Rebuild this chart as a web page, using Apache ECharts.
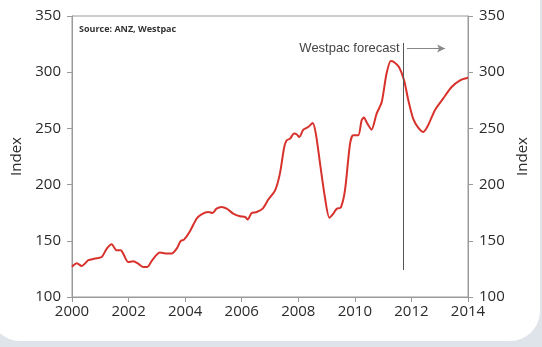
<!DOCTYPE html>
<html>
<head>
<meta charset="utf-8">
<script src="https://cdn.jsdelivr.net/npm/echarts@6/dist/echarts.min.js"></script>
<style>
  html, body { margin: 0; padding: 0; width: 542px; height: 347px; overflow: hidden; background: #dfe4ea; }
  #panel { position: absolute; left: -10px; top: -40px; width: 550px; height: 381px; background: #ffffff; border-radius: 30px; }
  #chart { position: absolute; left: 0; top: 0; width: 542px; height: 347px; }
</style>
</head>
<body>
<div id="panel"></div>
<div id="chart"></div>
<script>
// Index level; Westpac forecast from late 2011
const dates = [
  2000.00, 2000.17, 2000.34, 2000.58, 2000.81, 2001.05, 2001.23, 2001.40, 2001.58, 2001.73,
  2001.81, 2001.99, 2002.17, 2002.34, 2002.52, 2002.66, 2002.85, 2003.11, 2003.35, 2003.52,
  2003.70, 2003.84, 2003.96, 2004.17, 2004.41, 2004.58, 2004.82, 2004.97, 2005.11, 2005.29,
  2005.47, 2005.70, 2005.94, 2006.12, 2006.21, 2006.35, 2006.53, 2006.74, 2006.94, 2007.18,
  2007.35, 2007.50, 2007.59, 2007.71, 2007.85, 2007.94, 2008.03, 2008.18, 2008.35, 2008.51,
  2008.62, 2008.77, 2008.94, 2009.10, 2009.24, 2009.36, 2009.50, 2009.65, 2009.83, 2009.94,
  2010.12, 2010.24, 2010.32, 2010.44, 2010.59, 2010.77, 2010.95, 2011.12, 2011.27, 2011.38,
  2011.56, 2011.74, 2011.89, 2012.06, 2012.24, 2012.42, 2012.59, 2012.83, 2013.12, 2013.42,
  2013.72, 2014.00
];
const indexValues = [
  127, 130, 127.6, 132.7, 134.2, 135.6, 143, 146.9, 141.5, 141.5,
  138.6, 131.1, 131.8, 129.7, 126.7, 126.7, 133.3, 139.5, 138.6, 138.6,
  143, 149.8, 151, 158.5, 169.8, 173.6, 175.6, 174.7, 178.6, 180.1,
  178.6, 174.2, 171.8, 171.2, 168.9, 174.7, 175.6, 178.6, 186.7, 194.9,
  209.8, 233, 239.4, 240.9, 245.4, 244.8, 242.3, 248.9, 251.2, 254.8,
  245.4, 218.7, 189, 170.6, 174.2, 178.6, 179.5, 194.9, 236.5, 243.9,
  243.9, 257.2, 259.6, 254.3, 248.9, 263.2, 273.5, 298.8, 310, 309.1,
  304.6, 292.8, 275, 258.7, 250.7, 246.8, 252.8, 266.2, 276.5, 286.8,
  292.8, 295
];
const yearTicks = [2000, 2014, 2];      // min, max, step
const indexTicks = [100, 350, 50];      // min, max, step
const forecastStart = 2011.7;
const forecastLineRange = [124, 326];
const forecastArrow = [2011.84, 2013.19, 321];
const forecastLabel = 'Westpac forecast';
const sourceNote = 'Source: ANZ, Westpac';

const seriesData = dates.map((d, i) => [d, indexValues[i]]);

const axisFont = { fontFamily: 'Open Sans', fontSize: 15, color: '#2b2b2b' };
const axisGrey = '#9a9a9a';

function yAxisFor(pos) {
  return {
    type: 'value', position: pos,
    min: indexTicks[0], max: indexTicks[1], interval: indexTicks[2],
    name: 'Index', nameLocation: 'middle', nameGap: pos === 'left' ? 37 : 35,
    nameTextStyle: { fontFamily: 'Open Sans', fontSize: 15, color: '#2b2b2b' },
    axisLine: { show: true, lineStyle: { color: axisGrey, width: 1 } },
    axisTick: { show: true, length: 5, lineStyle: { color: axisGrey } },
    axisLabel: Object.assign({ margin: 11 }, axisFont),
    splitLine: { show: false }
  };
}

const chart = echarts.init(document.getElementById('chart'), null, { renderer: 'canvas' });
chart.setOption({
  animation: false,
  grid: { left: 72, right: 74, top: 16, bottom: 50, show: true, borderColor: axisGrey, borderWidth: 1, backgroundColor: 'transparent' },
  graphic: [{
    type: 'text', left: 79, top: 25,
    style: { text: sourceNote, fontFamily: 'Open Sans', fontSize: 9, fontWeight: 'bold', fill: '#333' }
  }],
  xAxis: {
    type: 'value', min: yearTicks[0], max: yearTicks[1], interval: yearTicks[2],
    axisLine: { show: true, onZero: false, lineStyle: { color: axisGrey, width: 1 } },
    axisTick: { show: true, length: 5, lineStyle: { color: axisGrey } },
    axisLabel: Object.assign({ margin: 7, formatter: v => String(v) }, axisFont),
    splitLine: { show: false }
  },
  yAxis: [yAxisFor('left'), yAxisFor('right')],
  series: [{
    type: 'line',
    data: seriesData,
    showSymbol: false,
    smooth: 0.25,
    lineStyle: { color: '#d8322c', width: 2 },
    markLine: {
      silent: true,
      animation: false,
      label: { show: false },
      data: [
        [
          { coord: [forecastStart, forecastLineRange[0]], symbol: 'none', lineStyle: { color: '#555', width: 1, type: 'solid' } },
          { coord: [forecastStart, forecastLineRange[1]], symbol: 'none' }
        ],
        [
          { coord: [forecastArrow[0], forecastArrow[2]], symbol: 'none', lineStyle: { color: '#888', width: 1, type: 'solid' } },
          { coord: [forecastArrow[1], forecastArrow[2]], symbol: 'arrow', symbolSize: [6, 8] }
        ]
      ]
    },
    markPoint: {
      silent: true,
      symbol: 'circle', symbolSize: 0,
      data: [{
        coord: [forecastStart - 0.12, forecastArrow[2]],
        label: { show: true, position: 'left', distance: 0, formatter: forecastLabel, fontFamily: 'Liberation Sans', fontSize: 13, color: '#444' }
      }]
    }
  }]
});
</script>
</body>
</html>
